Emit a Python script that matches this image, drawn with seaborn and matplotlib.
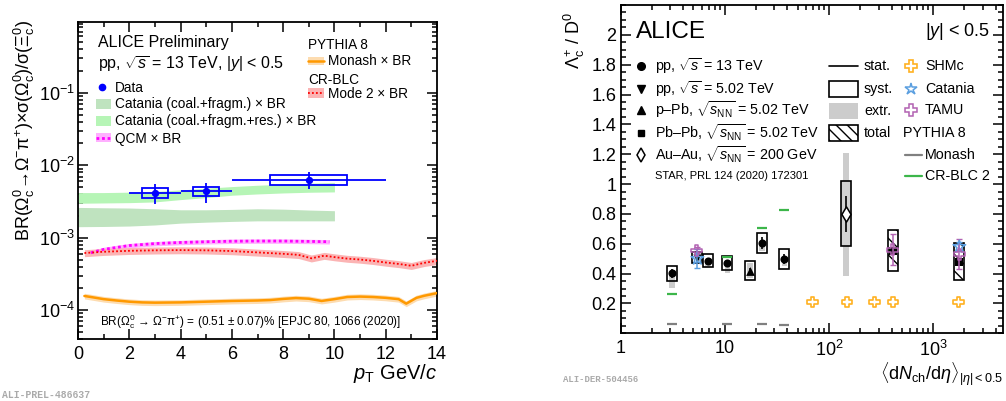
import numpy as np
import pandas as pd
import seaborn as sns
import matplotlib
matplotlib.use("Agg")
import matplotlib.pyplot as plt
from matplotlib.patches import Rectangle
from matplotlib.lines import Line2D
from matplotlib.ticker import MultipleLocator, LogLocator, NullFormatter, FuncFormatter

# ================= Left panel data (pT dependence) =================
omega_pt = [3.0, 5.0, 9.0]
omega_pt_lo = [2.0, 4.0, 6.0]
omega_pt_hi = [4.0, 6.0, 12.0]
omega_val = [4.2e-3, 4.4e-3, 6.35e-3]
omega_stat = [1.3e-3, 1.35e-3, 1.6e-3]
omega_syst = [0.7e-3, 0.65e-3, 0.95e-3]

catania_pt = [0, 1, 2, 3, 4, 5, 6, 7, 8, 9, 10]
catania_lo = [1.42e-3, 1.43e-3, 1.45e-3, 1.50e-3, 1.59e-3, 1.64e-3, 1.68e-3, 1.71e-3, 1.71e-3, 1.71e-3, 1.71e-3]
catania_hi = [2.62e-3, 2.59e-3, 2.57e-3, 2.51e-3, 2.43e-3, 2.43e-3, 2.46e-3, 2.51e-3, 2.48e-3, 2.41e-3, 2.36e-3]
catania_res_lo = [2.99e-3, 3.02e-3, 3.05e-3, 3.12e-3, 3.36e-3, 3.58e-3, 3.86e-3, 4.02e-3, 4.15e-3, 4.24e-3, 4.29e-3]
catania_res_hi = [4.20e-3, 4.20e-3, 4.25e-3, 4.34e-3, 4.57e-3, 4.82e-3, 5.08e-3, 5.30e-3, 5.47e-3, 5.65e-3, 5.77e-3]

qcm_pt = [0.5, 1, 2, 3, 4, 5, 6, 7, 8, 9, 9.8]
qcm_val = [6.2e-4, 6.9e-4, 7.8e-4, 8.3e-4, 8.6e-4, 8.8e-4, 8.95e-4, 9.0e-4, 9.0e-4, 8.9e-4, 8.8e-4]
qcm_rel_unc = 0.07

crblc_pt = [0.25, 1, 2, 3, 4, 5, 6, 7, 8, 8.6, 9.1, 9.6, 10, 10.5, 11, 11.5, 12, 12.5, 13, 13.5, 14]
crblc_val = [6.15e-4, 6.4e-4, 6.6e-4, 6.7e-4, 6.75e-4, 6.7e-4, 6.55e-4, 6.27e-4, 6.0e-4, 5.8e-4, 5.2e-4,
             5.65e-4, 5.4e-4, 5.15e-4, 5.0e-4, 4.8e-4, 4.55e-4, 4.35e-4, 4.1e-4, 4.5e-4, 4.8e-4]
crblc_rel_unc = 0.11

monash_pt = [0.25, 0.5, 1, 1.5, 2, 2.5, 3, 4, 5, 6, 7, 7.5, 8, 8.5, 9, 9.5, 10, 10.5, 11, 11.5, 12,
             12.5, 12.8, 13.2, 13.5, 14]
monash_val = [1.57e-4, 1.52e-4, 1.42e-4, 1.36e-4, 1.31e-4, 1.28e-4, 1.27e-4, 1.28e-4, 1.31e-4, 1.34e-4,
              1.36e-4, 1.38e-4, 1.43e-4, 1.47e-4, 1.44e-4, 1.34e-4, 1.42e-4, 1.52e-4, 1.54e-4, 1.52e-4,
              1.48e-4, 1.42e-4, 1.23e-4, 1.48e-4, 1.58e-4, 1.72e-4]
monash_rel_unc = 0.09

left_xticks = [0, 2, 4, 6, 8, 10, 12, 14]

# ================= Right panel data (multiplicity dependence) =================
pp13_x = [3.09, 6.95, 10.6, 22.7, 37.4]
pp13_y = [0.403, 0.487, 0.470, 0.604, 0.497]
pp13_stat = [0.03, 0.02, 0.02, 0.04, 0.035]
pp13_syst = [0.05, 0.045, 0.047, 0.067, 0.065]
pp13_extr_lo = [0.305, 0.445, 0.405, 0.55, 0.45]
pp13_extr_hi = [0.40, 0.49, 0.47, 0.60, 0.50]

pp5_x = [5.45]
pp5_y = [0.507]
pp5_stat = [0.02]
pp5_syst = [0.038]

ppb_x = [17.3]
ppb_y = [0.42]
ppb_stat = [0.02]
ppb_syst = [0.062]
ppb_extr_lo = [0.37]
ppb_extr_hi = [0.47]

auau_x = [145.6]
auau_y = [0.80]
auau_stat = [0.118]
auau_syst = [0.218]
auau_extr_lo = [0.387]
auau_extr_hi = [1.208]

pbpb_x = [409.0, 1790.0]
pbpb_y = [0.554, 0.481]
pbpb_stat = [0.02, 0.02]
pbpb_total = [0.135, 0.125]

shmc_x = [69.5, 149.0, 273.0, 412.0, 1762.0]
shmc_y = [0.21, 0.21, 0.21, 0.21, 0.21]

catania_mult_x = [5.45, 1790.0]
catania_mult_y = [0.50, 0.58]
catania_mult_err = [0.065, 0.03]

tamu_x = [5.37, 409.0, 1790.0]
tamu_y = [0.555, 0.56, 0.53]
tamu_err = [0.02, 0.105, 0.10]

py_mult_x = [3.09, 10.6, 22.7, 37.4]
monash_mult_y = [0.062, 0.062, 0.060, 0.056]
crblc2_mult_y = [0.262, 0.510, 0.705, 0.828]

right_xticks = [1, 10, 100, 1000]
right_xticklabels = ["1", "10", "$10^{2}$", "$10^{3}$"]
right_yticks = [0.2, 0.4, 0.6, 0.8, 1.0, 1.2, 1.4, 1.6, 1.8, 2.0]

# ================= Style =================
sns.set_theme(style="ticks", rc={"axes.edgecolor": "black", "text.color": "black",
                                 "xtick.color": "black", "ytick.color": "black",
                                 "axes.labelcolor": "black"})
plt.rcParams["font.family"] = ["Liberation Sans", "DejaVu Sans"]
plt.rcParams["mathtext.fontset"] = "custom"
plt.rcParams["mathtext.rm"] = "Liberation Sans"
plt.rcParams["mathtext.it"] = "Liberation Sans:italic"
plt.rcParams["mathtext.bf"] = "Liberation Sans:bold"
plt.rcParams["mathtext.sf"] = "Liberation Sans"
plt.rcParams["hatch.linewidth"] = 1.0

W, H = 1006, 401
fig = plt.figure(figsize=(W / 100, H / 100), dpi=100)


def frac(x0, y0, x1, y1):
    return [x0 / W, 1 - y1 / H, (x1 - x0) / W, (y1 - y0) / H]


def style_axes(ax):
    for s in ax.spines.values():
        s.set_linewidth(1.3)
    ax.tick_params(which="both", direction="in", top=True, right=True, labelsize=13, width=1.1)
    ax.tick_params(which="major", length=7)
    ax.tick_params(which="minor", length=3.5)


# ---------------- Left axes ----------------
axL = fig.add_axes(frac(78, 22, 437, 339))
axL.set_yscale("log")
axL.set_xlim(0, 14)
axL.set_ylim(4e-5, 0.95)

c_cat = "#bfe3bf"
c_catres = "#b6f5b6"
axL.fill_between(catania_pt, catania_lo, catania_hi, color=c_cat, lw=0, zorder=1)
axL.fill_between(catania_pt, catania_res_lo, catania_res_hi, color=c_catres, lw=0, zorder=1)

qv = np.array(qcm_val)
axL.fill_between(qcm_pt, qv * (1 - qcm_rel_unc), qv * (1 + qcm_rel_unc), color="#ffb0ff", lw=0, zorder=2)
sns.lineplot(x=qcm_pt, y=qcm_val, ax=axL, color="#ff00ff", lw=2.0, linestyle=(0, (1.0, 1.0)),
             sort=False, estimator=None, zorder=4)

cv = np.array(crblc_val)
axL.fill_between(crblc_pt, cv * (1 - crblc_rel_unc), cv * (1 + crblc_rel_unc), color="#fbb4b4", lw=0,
                 zorder=2)
sns.lineplot(x=crblc_pt, y=crblc_val, ax=axL, color="#ff0000", lw=1.3, linestyle=(0, (1.0, 1.2)),
             sort=False, estimator=None, zorder=4)

mv = np.array(monash_val)
axL.fill_between(monash_pt, mv * (1 - monash_rel_unc), mv * (1 + monash_rel_unc), color="#fddcb0", lw=0,
                 zorder=2)
sns.lineplot(x=monash_pt, y=monash_val, ax=axL, color="#ff9900", lw=1.8, sort=False, estimator=None,
             zorder=4)

# data
pt = np.array(omega_pt)
xerr = [pt - np.array(omega_pt_lo), np.array(omega_pt_hi) - pt]
axL.errorbar(omega_pt, omega_val, xerr=xerr, yerr=omega_stat, fmt="none", ecolor="#0000ff",
             elinewidth=1.3, capsize=0, zorder=6)
for x, lo, hi, v, s in zip(omega_pt, omega_pt_lo, omega_pt_hi, omega_val, omega_syst):
    hw = 0.25 * (hi - lo)
    axL.add_patch(Rectangle((x - hw, v - s), 2 * hw, 2 * s, fill=False, edgecolor="#0000ff", lw=1.3,
                            zorder=6))
sns.scatterplot(x=omega_pt, y=omega_val, ax=axL, color="#0000ff", s=28, edgecolor="#0000ff",
                linewidth=0, zorder=7)

style_axes(axL)
axL.set_xticks(left_xticks)
axL.xaxis.set_minor_locator(MultipleLocator(1))
axL.yaxis.set_minor_locator(LogLocator(base=10, subs=np.arange(2, 10)))
axL.yaxis.set_minor_formatter(NullFormatter())
axL.tick_params(axis="x", pad=5)
axL.tick_params(axis="y", pad=2)
axL.set_xlabel("")
axL.set_ylabel("")

# ---------------- Right axes ----------------
axR = fig.add_axes(frac(620.7, 5, 1003, 333.3))
axR.set_xscale("log")
axR.set_xlim(1, 4700)
axR.set_ylim(0, 2.2)

BOX_HW = 0.048   # half width of boxes in decades
EXTR_HW = 0.028


def box(ax, x, ylo, yhi, hw, **kw):
    x0, x1 = x * 10 ** (-hw), x * 10 ** hw
    ax.add_patch(Rectangle((x0, ylo), x1 - x0, yhi - ylo, **kw))


gray_extr = "#cccccc"
for x, lo, hi in zip(pp13_x, pp13_extr_lo, pp13_extr_hi):
    box(axR, x, lo, hi, EXTR_HW, facecolor=gray_extr, lw=0, zorder=1)
for x, lo, hi in zip(ppb_x, ppb_extr_lo, ppb_extr_hi):
    box(axR, x, lo, hi, EXTR_HW, facecolor=gray_extr, lw=0, zorder=1)
for x, lo, hi in zip(auau_x, auau_extr_lo, auau_extr_hi):
    box(axR, x, lo, hi, EXTR_HW, facecolor=gray_extr, lw=0, zorder=1)

for x, y, s in zip(pp13_x, pp13_y, pp13_syst):
    box(axR, x, y - s, y + s, BOX_HW, fill=False, edgecolor="black", lw=1.2, zorder=3)
for x, y, s in zip(pp5_x, pp5_y, pp5_syst):
    box(axR, x, y - s, y + s, BOX_HW, fill=False, edgecolor="black", lw=1.2, zorder=3)
for x, y, s in zip(ppb_x, ppb_y, ppb_syst):
    box(axR, x, y - s, y + s, BOX_HW, fill=False, edgecolor="black", lw=1.2, zorder=3)
for x, y, s in zip(auau_x, auau_y, auau_syst):
    box(axR, x, y - s, y + s, BOX_HW, facecolor="#d3d3d3", edgecolor="black", lw=1.2, zorder=2)
for x, y, s in zip(pbpb_x, pbpb_y, pbpb_total):
    box(axR, x, y - s, y + s, BOX_HW, facecolor="white", edgecolor="black", hatch="\\\\", lw=1.2,
        zorder=3)

# PYTHIA dashes
px = np.array(py_mult_x)
axR.hlines(monash_mult_y, px * 10 ** (-BOX_HW), px * 10 ** BOX_HW, colors="#808080", lw=1.6, zorder=3)
axR.hlines(crblc2_mult_y, px * 10 ** (-BOX_HW), px * 10 ** BOX_HW, colors="#3cb64a", lw=1.6, zorder=3)

# stat errors
axR.errorbar(pp13_x, pp13_y, yerr=pp13_stat, fmt="none", ecolor="black", elinewidth=1.2, zorder=5)
axR.errorbar(pp5_x, pp5_y, yerr=pp5_stat, fmt="none", ecolor="black", elinewidth=1.2, zorder=5)
axR.errorbar(ppb_x, ppb_y, yerr=ppb_stat, fmt="none", ecolor="black", elinewidth=1.2, zorder=5)
axR.errorbar(auau_x, auau_y, yerr=auau_stat, fmt="none", ecolor="black", elinewidth=1.2, zorder=5)
axR.errorbar(pbpb_x, pbpb_y, yerr=pbpb_stat, fmt="none", ecolor="black", elinewidth=1.2, zorder=5)

sns.scatterplot(x=pp13_x, y=pp13_y, ax=axR, marker="o", color="black", s=34, linewidth=0, zorder=6)
sns.scatterplot(x=pp5_x, y=pp5_y, ax=axR, marker="v", color="black", s=34, linewidth=0, zorder=6)
sns.scatterplot(x=ppb_x, y=ppb_y, ax=axR, marker="^", color="black", s=40, linewidth=0, zorder=6)
sns.scatterplot(x=pbpb_x, y=pbpb_y, ax=axR, marker="s", color="black", s=26, linewidth=0, zorder=6)
sns.scatterplot(x=auau_x, y=auau_y, ax=axR, marker="d", color="white", edgecolor="black", s=60,
                linewidth=1.1, zorder=6)

# models
c_shm = "#ffb121"
c_cat_m = "#5b9fe0"
c_tamu = "#b262b2"
sns.scatterplot(x=shmc_x, y=shmc_y, ax=axR, marker="P", color="none", edgecolor=c_shm, s=60,
                linewidth=1.2, zorder=7)
axR.errorbar(catania_mult_x, catania_mult_y, yerr=catania_mult_err, fmt="none", ecolor=c_cat_m,
             elinewidth=1.1, capsize=2, zorder=7)
sns.scatterplot(x=catania_mult_x, y=catania_mult_y, ax=axR, marker="*", color="none", edgecolor=c_cat_m,
                s=90, linewidth=1.1, zorder=8)
axR.errorbar(tamu_x, tamu_y, yerr=tamu_err, fmt="none", ecolor=c_tamu, elinewidth=1.1, capsize=2,
             zorder=7)
sns.scatterplot(x=tamu_x, y=tamu_y, ax=axR, marker="P", color="none", edgecolor=c_tamu, s=60,
                linewidth=1.1, zorder=8)

style_axes(axR)
axR.set_xticks(right_xticks, right_xticklabels)
axR.xaxis.set_minor_locator(LogLocator(base=10, subs=np.arange(2, 10)))
axR.xaxis.set_minor_formatter(NullFormatter())
axR.set_yticks(right_yticks)
axR.yaxis.set_major_formatter(FuncFormatter(lambda v, _: f"{v:.1f}".rstrip("0").rstrip(".")))
axR.yaxis.set_minor_locator(MultipleLocator(0.05))
axR.tick_params(axis="x", pad=5)
axR.tick_params(axis="y", pad=3)
axR.set_xlabel("")
axR.set_ylabel("")

# ================= Overlay for texts and legend samples (pixel coords) =================
ov = fig.add_axes([0, 0, 1, 1], facecolor="none")
ov.set_xlim(0, W)
ov.set_ylim(H, 0)
ov.axis("off")


def T(x, y, s, size, ha="left", va="center", **kw):
    ov.text(x, y, s, fontsize=size, ha=ha, va=va, **kw)


# left panel texts
T(24, 20, "BR(Ω$_{\\rm c}^{0}$→Ω$^{-}$π$^{+}$)×σ(Ω$_{\\rm c}^{0}$)/σ(Ξ$_{\\rm c}^{0}$)", 13,
  ha="center", va="top", rotation=90)
T(437, 362, "$p_{\\rm T}$ GeV/$c$", 14.5, ha="right", va="top")
T(98, 42, "ALICE Preliminary", 11.5)
T(98, 64, "pp, $\\sqrt{s}$ = 13 TeV, $|y|$ < 0.5", 11.5)
T(100, 322, "BR(Ω$_{\\rm c}^{0}$ → Ω$^{-}$π$^{+}$) = (0.51 ± 0.07)% [EPJC 80, 1066 (2020)]", 8.5)

ov.plot([102], [87], "o", color="#0000ff", ms=4.5)
T(115, 88, "Data", 9.8)
ov.add_patch(Rectangle((96, 99), 15, 10, facecolor=c_cat, lw=0))
T(115, 104, "Catania (coal.+fragm.) × BR", 9.8)
ov.add_patch(Rectangle((96, 116), 15, 10, facecolor=c_catres, lw=0))
T(115, 121, "Catania (coal.+fragm.+res.) × BR", 9.8)
ov.add_patch(Rectangle((96, 133), 15, 9, facecolor="#ffb0ff", lw=0))
ov.plot([96, 111], [137.5, 137.5], color="#ff00ff", lw=2.0, linestyle=(0, (1.0, 1.0)))
T(115, 139, "QCM × BR", 9.8)

T(308, 45, "PYTHIA 8", 9.8)
ov.add_patch(Rectangle((308, 57), 16, 8, facecolor="#fddcb0", lw=0))
ov.plot([308, 324], [61, 61], color="#ff9900", lw=1.8)
T(328, 61, "Monash × BR", 9.8)
T(308, 80, "CR-BLC", 9.8)
ov.add_patch(Rectangle((308, 88), 16, 10, facecolor="#fbb4b4", lw=0))
ov.plot([308, 324], [93, 93], color="#ff0000", lw=1.3, linestyle=(0, (1.0, 1.2)))
T(328, 94, "Mode 2 × BR", 9.8)

# right panel texts
T(574, 12, "Λ$_{\\rm c}^{+}$ / D$^{0}$", 13, ha="center", va="top", rotation=90)
T(1003, 360, "$\\langle{\\rm d}N_{\\rm ch}/{\\rm d}\\eta\\rangle_{|\\eta|<0.5}$", 13, ha="right", va="top")
T(636, 32, "ALICE", 17.5)
T(990, 32, "$|y|$ < 0.5", 13, ha="right")

rows = [66, 89, 110, 133, 155]
ov.plot([641], [rows[0]], "o", color="black", ms=5.5)
ov.plot([641], [rows[1]], "v", color="black", ms=5.5)
ov.plot([641], [rows[2]], "^", color="black", ms=5.5)
ov.plot([641], [rows[3]], "s", color="black", ms=4.5)
ov.plot([641], [rows[4]], "d", mfc="white", mec="black", ms=7, mew=1.1)
T(655, rows[0], "pp, $\\sqrt{s}$ = 13 TeV", 10.3)
T(655, rows[1], "pp, $\\sqrt{s}$ = 5.02 TeV", 10.3)
T(655, rows[2], "p–Pb, $\\sqrt{s_{\\rm NN}}$ = 5.02 TeV", 10.3)
T(655, rows[3], "Pb–Pb, $\\sqrt{s_{\\rm NN}}$ = 5.02 TeV", 10.3)
T(655, rows[4], "Au–Au, $\\sqrt{s_{\\rm NN}}$ = 200 GeV", 10.3)
T(655, 176, "STAR, PRL 124 (2020) 172301", 8)

ov.plot([829, 858], [66, 66], color="black", lw=1.2)
ov.add_patch(Rectangle((829, 81), 29, 16, fill=False, edgecolor="black", lw=1.2))
ov.add_patch(Rectangle((829, 103), 29, 16, facecolor=gray_extr, lw=0))
ov.add_patch(Rectangle((829, 125), 29, 16, facecolor="white", edgecolor="black", hatch="\\\\\\", lw=1.2))
T(864, 66, "stat.", 10.3)
T(864, 89, "syst.", 10.3)
T(864, 111, "extr.", 10.3)
T(864, 133, "total", 10.3)

ov.plot([911], [66], "P", mfc="none", mec=c_shm, ms=8, mew=1.2)
ov.plot([911], [89], "*", mfc="none", mec=c_cat_m, ms=9, mew=1.1)
ov.plot([911], [110], "P", mfc="none", mec=c_tamu, ms=8, mew=1.1)
T(925, 66, "SHMc", 10.3)
T(925, 89, "Catania", 10.3)
T(925, 110, "TAMU", 10.3)
T(903, 133, "PYTHIA 8", 10.3)
ov.plot([905, 922], [155, 155], color="#808080", lw=1.6)
T(925, 155, "Monash", 10.3)
ov.plot([905, 922], [176, 176], color="#3cb64a", lw=1.6)
T(925, 176, "CR-BLC 2", 10.3)

# watermarks
T(2, 395, "ALI-PREL-486637", 7, color="#aaaaaa", family="Liberation Mono", weight="bold")
T(563, 379, "ALI-DER-504456", 6.5, color="#aaaaaa", family="Liberation Mono", weight="bold")

fig.savefig("out.png", dpi=100)
